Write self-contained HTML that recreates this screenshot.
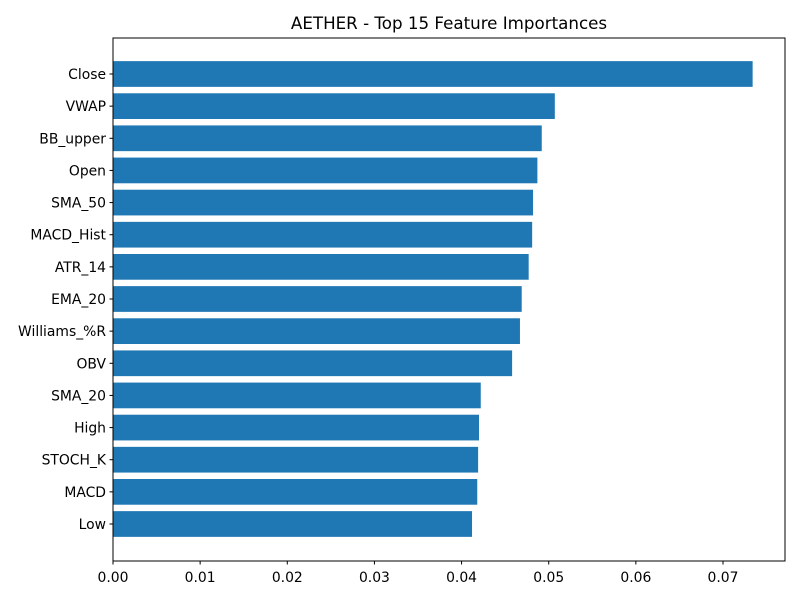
<!DOCTYPE html>
<html><head><meta charset="utf-8"><style>
body{margin:0;background:#fff;font-family:"Liberation Sans","DejaVu Sans",sans-serif;}
svg text{font-family:"DejaVu Sans","Liberation Sans",sans-serif;}
</style></head><body>
<svg id="chart" width="800" height="600" xmlns="http://www.w3.org/2000/svg">
<rect width="800" height="600" fill="#fff"/>
<text x="449" y="29" text-anchor="middle" font-size="16.7">AETHER - Top 15 Feature Importances</text>
<g id="bars"></g>
<g id="yticks"></g>
<g id="xticks"></g>
<rect x="113" y="38" width="672" height="523" fill="none" stroke="#000" stroke-width="1"/>
</svg>
<script>
const features = ["Close","VWAP","BB_upper","Open","SMA_50","MACD_Hist","ATR_14","EMA_20","Williams_%R","OBV","SMA_20","High","STOCH_K","MACD","Low"];
const importances = [0.0734,0.0507,0.0492,0.0487,0.0482,0.0481,0.0477,0.0469,0.0467,0.0458,0.0422,0.0420,0.0419,0.0418,0.0412];
const xTickValues = [0,0.01,0.02,0.03,0.04,0.05,0.06,0.07];
const xTickLabels = ["0.00","0.01","0.02","0.03","0.04","0.05","0.06","0.07"];
const NS="http://www.w3.org/2000/svg";
const x0=113, xPerUnit=610/0.07;
function xScale(v){return x0+v*xPerUnit;}
const yFirst=74, yLast=524;
const step=(yLast-yFirst)/(features.length-1);
function yScale(i){return yFirst+i*step;}
const bh=step*0.8;
const bars=document.getElementById('bars'), yt=document.getElementById('yticks'), xt=document.getElementById('xticks');
features.forEach((f,i)=>{
  const r=document.createElementNS(NS,'rect');
  r.setAttribute('x',x0);r.setAttribute('y',yScale(i)-bh/2);
  r.setAttribute('width',xScale(importances[i])-x0);r.setAttribute('height',bh);
  r.setAttribute('fill','#1f77b4');
  
  
  bars.appendChild(r);
  const l=document.createElementNS(NS,'line');
  l.setAttribute('x1',x0-3.5);l.setAttribute('x2',x0);l.setAttribute('y1',yScale(i));l.setAttribute('y2',yScale(i));l.setAttribute('stroke','#000');
  
  
  yt.appendChild(l);
  const t=document.createElementNS(NS,'text');
  t.setAttribute('x',x0-7);t.setAttribute('y',yScale(i)+5);t.setAttribute('text-anchor','end');t.setAttribute('font-size','13.9');
  t.textContent=f;
  
  
  yt.appendChild(t);
});
xTickValues.forEach((v,i)=>{
  const x=xScale(v);
  const l=document.createElementNS(NS,'line');
  l.setAttribute('x1',x);l.setAttribute('x2',x);l.setAttribute('y1',561);l.setAttribute('y2',564.5);l.setAttribute('stroke','#000');
  
  
  xt.appendChild(l);
  const t=document.createElementNS(NS,'text');
  t.setAttribute('x',x);t.setAttribute('y',582);t.setAttribute('text-anchor','middle');t.setAttribute('font-size','13.9');
  t.textContent=xTickLabels[i];
  
  
  xt.appendChild(t);
});
</script>
</body></html>
